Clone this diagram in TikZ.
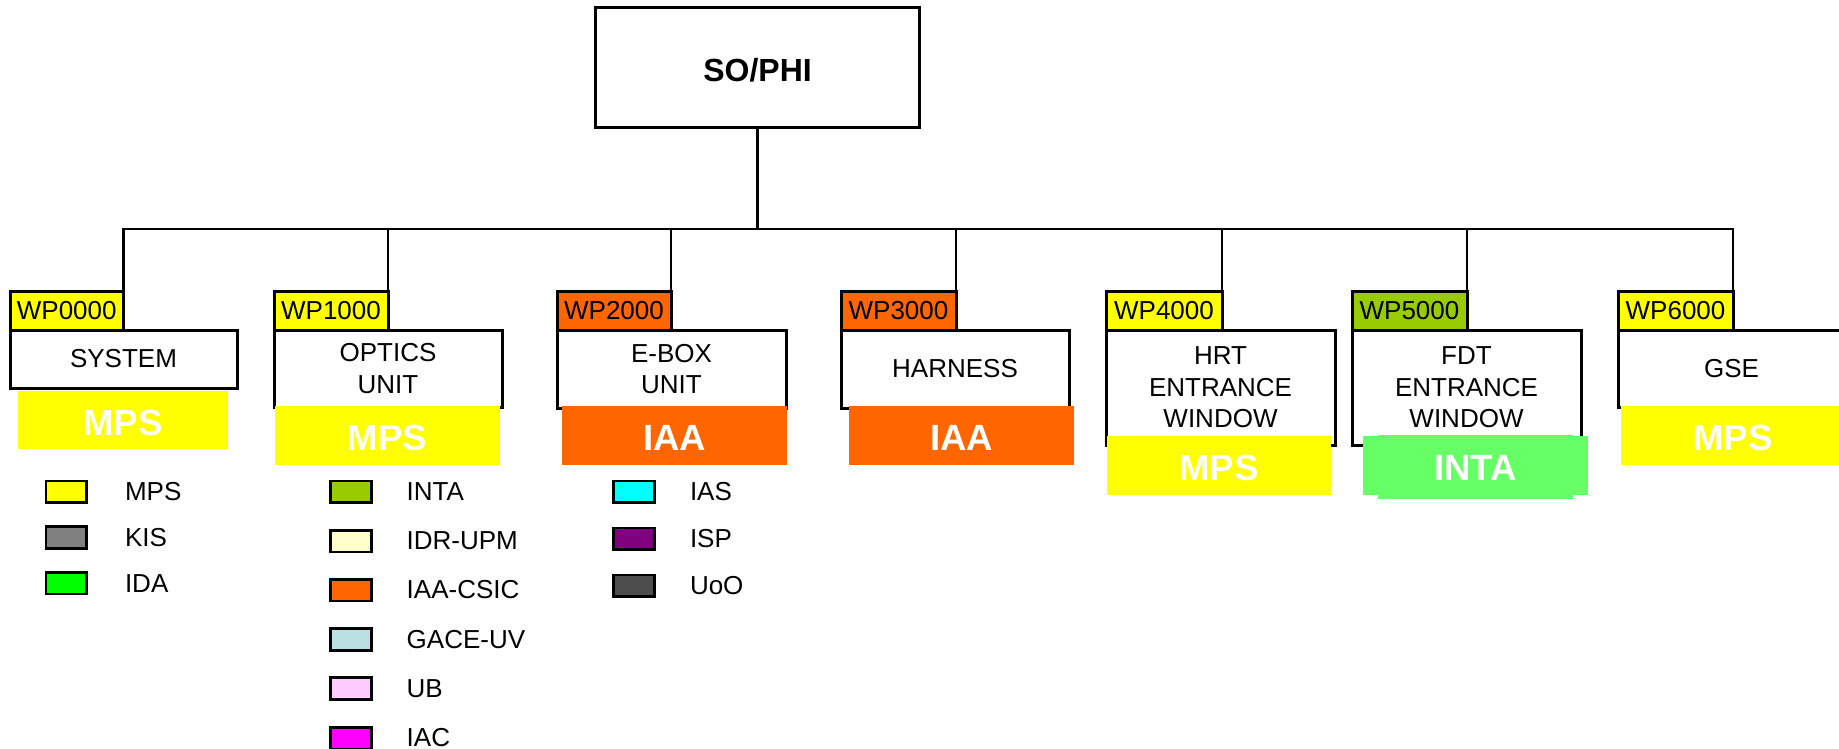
\documentclass[tikz,border=0pt]{standalone}
\usepackage{fontspec}
\setmainfont{Liberation Sans}
\definecolor{cyel}{HTML}{FFFF00}
\definecolor{corange}{HTML}{FF6600}
\definecolor{cinta}{HTML}{99CC00}
\definecolor{cintablk}{HTML}{66FF66}
\definecolor{ckis}{HTML}{808080}
\definecolor{cida}{HTML}{00FF00}
\definecolor{cidr}{HTML}{FFFFCC}
\definecolor{cgace}{HTML}{BBE0E3}
\definecolor{cub}{HTML}{FFCCFF}
\definecolor{ciac}{HTML}{FF00FF}
\definecolor{cias}{HTML}{00FFFF}
\definecolor{cisp}{HTML}{800080}
\definecolor{cuoo}{HTML}{4D4D4D}
\begin{document}
\begin{tikzpicture}[x=1pt,y=-1pt,
  rootbox/.style={draw, line width=2.5pt, fill=white, anchor=north west, inner sep=0pt, outer sep=0pt,
    font=\fontsize{32}{38}\selectfont\bfseries, text height=27.3pt, text depth=0pt},
  tagbox/.style={draw, line width=3pt, anchor=north west, inner sep=0pt, outer sep=0pt,
    font=\fontsize{26}{31.5}\selectfont},
  wbox/.style={draw, line width=3pt, fill=white, anchor=north west, inner sep=0pt, outer sep=0pt,
    align=center, font=\fontsize{26}{31.5}\selectfont},
  blk/.style={anchor=north west, inner sep=0pt, outer sep=0pt, text=white,
    font=\fontsize{36.5}{40}\selectfont\bfseries, text height=31pt, text depth=0pt},
  conn/.style={line width=2.5pt, line join=miter},
  sw/.style={draw, line width=2.7pt, minimum width=40.7pt, minimum height=21.7pt, inner sep=0pt, outer sep=0pt},
  lt/.style={anchor=west, inner sep=0pt, outer sep=0pt, font=\fontsize{26}{31.5}\selectfont}
]
\path[clip] (0,0) rectangle (1839,749);
\fill[white] (0,0) rectangle (1839,749);

% root
\node[rootbox, minimum width=323.6pt, minimum height=120.4pt] (root) at (595.7,7.3) {SO/PHI};

% main boxes
\node[wbox, minimum width=227pt, minimum height=58pt] (b0) at (10,330) {SYSTEM};
\node[wbox, minimum width=228pt, minimum height=77pt] (b1) at (274,330) {OPTICS\\UNIT};
\node[wbox, minimum width=229pt, minimum height=78pt] (b2) at (557,330) {E-BOX\\UNIT};
\node[wbox, minimum width=228pt, minimum height=78pt] (b3) at (841,330) {HARNESS};
\node[wbox, minimum width=229pt, minimum height=115pt] (b4) at (1106,330) {HRT\\ENTRANCE\\WINDOW};
\node[wbox, minimum width=229pt, minimum height=115pt] (b5) at (1352,330) {FDT\\ENTRANCE\\WINDOW};
\node[wbox, minimum width=227pt, minimum height=77pt] (b6) at (1618,330) {GSE};

% tags
\node[tagbox, fill=cyel, minimum width=113.5pt, minimum height=39pt] (t0) at (10,291) {WP0000};
\node[tagbox, fill=cyel, minimum width=114pt, minimum height=39pt] (t1) at (274,291) {WP1000};
\node[tagbox, fill=corange, minimum width=114pt, minimum height=39pt] (t2) at (557,291) {WP2000};
\node[tagbox, fill=corange, minimum width=115pt, minimum height=39pt] (t3) at (841,291) {WP3000};
\node[tagbox, fill=cyel, minimum width=116pt, minimum height=39pt] (t4) at (1106,291) {WP4000};
\node[tagbox, fill=cinta, minimum width=115pt, minimum height=39pt] (t5) at (1352,291) {WP5000};
\node[tagbox, fill=cyel, minimum width=115pt, minimum height=39pt] (t6) at (1618,291) {WP6000};

% blocks
\node[blk, fill=cyel, minimum width=210pt, minimum height=58pt] (k0) at (18,391) {MPS};
\node[blk, fill=cyel, minimum width=225pt, minimum height=58.5pt] (k1) at (275,406) {MPS};
\node[blk, fill=corange, minimum width=225pt, minimum height=58.5pt] (k2) at (562,406) {IAA};
\node[blk, fill=corange, minimum width=225pt, minimum height=58.5pt] (k3) at (849,406) {IAA};
\node[blk, fill=cyel, minimum width=224pt, minimum height=58.5pt] (k4) at (1107,436) {MPS};
\fill[cintablk] (1378,435) rectangle (1573,499);
\node[blk, fill=cintablk, minimum width=225pt, minimum height=58.5pt] (k5) at (1363,436) {INTA};
\node[blk, fill=cyel, minimum width=224pt, minimum height=58.5pt] (k6) at (1621,406) {MPS};

% connectors
\coordinate (bar) at (758,229);
\draw[conn] (root.south) -- (root.south |- bar);
\draw[conn] (t0.north east) -- (t0.north east |- bar) -- (t6.north east |- bar) -- (t6.north east);
\foreach \i in {1,2,3,4,5} {
  \draw[conn] (t\i.north east |- bar) -- (t\i.north east);
}

% legend column 1
\node[sw, fill=cyel] (s1) at (66.3,491.8) {};
\node[lt] (l1) at (125,491.8) {MPS};
\node[sw, fill=ckis] (s2) at (66.3,537.5) {};
\node[lt] (l2) at (125,537.5) {KIS};
\node[sw, fill=cida] (s3) at (66.3,583.2) {};
\node[lt] (l3) at (125,583.2) {IDA};

% legend column 2
\node[sw, fill=cinta] (s4) at (350.8,491.8) {};
\node[lt] (l4) at (406.7,491.8) {INTA};
\node[sw, fill=cidr] (s5) at (350.8,541) {};
\node[lt] (l5) at (406.7,541) {IDR-UPM};
\node[sw, fill=corange] (s6) at (350.8,590) {};
\node[lt] (l6) at (406.7,590) {IAA-CSIC};
\node[sw, fill=cgace] (s7) at (350.8,639.5) {};
\node[lt] (l7) at (406.7,639.5) {GACE-UV};
\node[sw, fill=cub] (s8) at (350.8,688.5) {};
\node[lt] (l8) at (406.7,688.5) {UB};
\node[sw, fill=ciac] (s9) at (350.8,738) {};
\node[lt] (l9) at (406.7,738) {IAC};

% legend column 3
\node[sw, fill=cias] (s10) at (633.8,491.8) {};
\node[lt] (l10) at (690,491.8) {IAS};
\node[sw, fill=cisp] (s11) at (633.8,538.8) {};
\node[lt] (l11) at (690,538.8) {ISP};
\node[sw, fill=cuoo] (s12) at (633.8,585.8) {};
\node[lt] (l12) at (690,585.8) {UoO};
\end{tikzpicture}
\end{document}
